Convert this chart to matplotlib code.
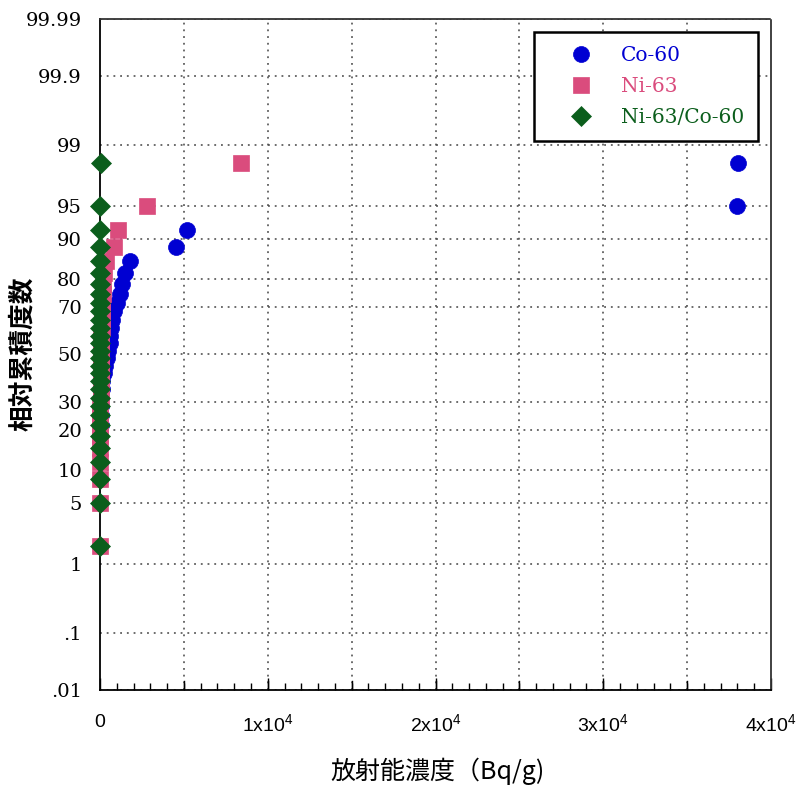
import numpy as np
import matplotlib
matplotlib.use('Agg')
import matplotlib.pyplot as plt
from matplotlib.ticker import MultipleLocator, FixedLocator
from statistics import NormalDist

# ---- data (Bq/g), sorted ascending, 30 samples each ----
co60 = [4, 7, 11, 16, 22, 28, 35, 45, 55, 70, 90, 120, 210, 300, 390, 480,
        570, 620, 670, 740, 830, 990, 1190, 1330, 1490, 1790, 4530, 5200,
        38000, 38050]
ni63 = [5, 8, 10, 12, 15, 18, 20, 24, 28, 32, 36, 40, 45, 50, 55, 60, 70,
        80, 90, 100, 120, 140, 170, 200, 260, 380, 830, 1050, 2800, 8400]
ratio = [0.2, 0.3, 0.4, 0.5, 0.6, 0.7, 0.8, 0.9, 1.0, 1.1, 1.2, 1.4, 1.6,
         1.8, 2.0, 2.3, 2.6, 3.0, 3.4, 3.9, 4.5, 5.2, 6.0, 7.0, 8.5, 10.0,
         13.0, 17.0, 25.0, 40.0]
series_names = ['Co-60', 'Ni-63', 'Ni-63/Co-60']
series_colors = ['#0000D2', '#DA4C7D', '#0B5E1C']

y_ticks = [0.01, 0.1, 1, 5, 10, 20, 30, 50, 70, 80, 90, 95, 99, 99.9, 99.99]
y_ticklabels = ['.01', '.1', '1', '5', '10', '20', '30', '50', '70', '80',
                '90', '95', '99', '99.9', '99.99']
x_ticks = [0, 10000, 20000, 30000, 40000]
x_ticklabels = ['0', '1x10$^{4}$', '2x10$^{4}$', '3x10$^{4}$', '4x10$^{4}$']

# ---- normal probability scale ----
_nd = NormalDist()
_ppf = np.vectorize(lambda v: _nd.inv_cdf(v / 100.0), otypes=[float])
_cdf = np.vectorize(lambda v: _nd.cdf(v) * 100.0, otypes=[float])


def fwd(p):
    p = np.clip(np.asarray(p, dtype=float), 1e-7, 100 - 1e-7)
    return _ppf(p)


def inv(z):
    return _cdf(np.asarray(z, dtype=float))


def hazen(n):
    return (np.arange(1, n + 1) - 0.5) / n * 100.0


plt.rcParams['font.family'] = ['Liberation Sans', 'DejaVu Sans']
plt.rcParams['mathtext.fontset'] = 'custom'
plt.rcParams['mathtext.rm'] = 'Liberation Sans'
plt.rcParams['mathtext.it'] = 'Liberation Sans'
plt.rcParams['mathtext.bf'] = 'Liberation Sans'

fig = plt.figure(figsize=(8.01, 7.85), dpi=100)
ax = fig.add_axes([100 / 801, 1 - 690 / 785, 671 / 801, 671 / 785])
ax.set_yscale('function', functions=(fwd, inv))
ax.set_ylim(0.01, 99.99)
ax.set_xlim(0, 40000)

markers = ['o', 's', 'D']
sizes = [11.5, 11.5, 10.0]
handles = []
for vals, name, col, mk, ms in zip([co60, ni63, ratio], series_names,
                                   series_colors, markers, sizes):
    v = np.sort(np.asarray(vals, dtype=float))
    h, = ax.plot(v, hazen(len(v)), linestyle='none', marker=mk, ms=ms,
                 color=col, mec=col, mew=0.5, clip_on=False, zorder=4,
                 label=name)
    handles.append(h)

# y ticks
ax.set_yticks(y_ticks)
ax.set_yticklabels(y_ticklabels, fontfamily='DejaVu Serif', fontsize=14)
ax.yaxis.set_minor_locator(FixedLocator([]))
ax.tick_params(axis='y', length=0, pad=13)

# x ticks: grid every 5000, labels every 10000, minor every 1000
ax.set_xticks(x_ticks)
ax.set_xticklabels(x_ticklabels, fontsize=14)
ax.xaxis.set_minor_locator(MultipleLocator(1000))
ax.tick_params(axis='x', which='major', direction='in', length=9, width=1,
               pad=17)
ax.tick_params(axis='x', which='minor', direction='in', length=5, width=1)

grid_kw = dict(color='#444444', linestyle=(0, (1.2, 3.2)), linewidth=1.1,
               zorder=1)
ax.grid(True, axis='y', which='major', **grid_kw)
for xv in np.arange(5000, 40000, 5000):
    ax.axvline(xv, **grid_kw)
    ax.axvline(xv, ymin=0, ymax=9 / 671, color='black', lw=1)

for s in ['left', 'bottom']:
    ax.spines[s].set_linewidth(1.3)
    ax.spines[s].set_color('black')
for s in ['top', 'right']:
    ax.spines[s].set_linewidth(1.3)
    ax.spines[s].set_color('#333333')
    ax.spines[s].set_linestyle((0, (2, 1)))

fig.text(437 / 801, 1 - 771 / 785, '放射能濃度（Bq/g)',
         family=['Noto Sans CJK JP', 'DejaVu Sans'], fontsize=18,
         ha='center', va='center')
fig.text(23 / 801, 1 - 354 / 785, '相対累積度数',
         family=['Noto Sans CJK JP', 'DejaVu Sans'], fontsize=18.5,
         fontweight='bold', rotation=90, ha='center', va='center')

leg = ax.legend(handles=handles, loc='upper right',
                bbox_to_anchor=(0.981, 0.981), frameon=True, fancybox=False,
                framealpha=1, edgecolor='black',
                prop={'family': 'DejaVu Serif', 'size': 14.5},
                borderpad=0.7, labelspacing=0.6, handlelength=3.2,
                handletextpad=0.4, borderaxespad=0, numpoints=1)
leg.get_frame().set_linewidth(1.8)
for txt, col in zip(leg.get_texts(), series_colors):
    txt.set_color(col)

fig.savefig('out.png', dpi=100)
